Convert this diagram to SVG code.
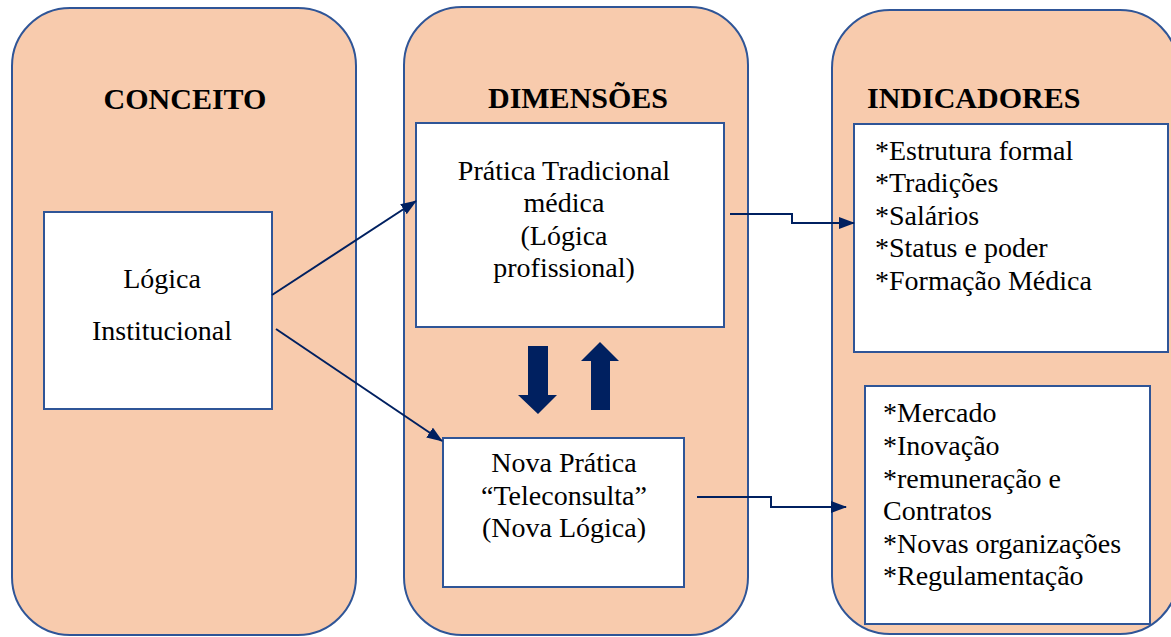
<svg xmlns="http://www.w3.org/2000/svg" width="1171" height="637" viewBox="0 0 1171 637">
<style>
.cont{fill:#F8CBAD;stroke:#2F5597;stroke-width:2}
.box{fill:#FFFFFF;stroke:#2F5597;stroke-width:2}
.title{font-family:"Liberation Serif","Times New Roman",serif;font-weight:bold;font-size:30px;fill:#000}
.t{font-family:"Liberation Serif","Times New Roman",serif;font-size:28px;fill:#000}
.c{text-anchor:middle}
.conn{fill:none;stroke:#002060;stroke-width:2}
.block{fill:#002060}
</style>
<defs>
<marker id="ah" markerWidth="10" markerHeight="8" refX="9" refY="4" orient="auto" markerUnits="userSpaceOnUse" viewBox="0 0 10 8">
<path d="M0,0 L10,4 L0,8 Z" fill="#002060"/>
</marker>
<marker id="ah2" markerWidth="16" markerHeight="12" refX="15" refY="6" orient="auto" markerUnits="userSpaceOnUse" viewBox="0 0 16 12">
<path d="M0,0 L16,6 L0,12 Z" fill="#002060"/>
</marker>
</defs>
<rect width="1171" height="637" fill="#FFFFFF"/>
<g id="conceito">
<rect class="cont" x="12" y="8" width="344" height="627" rx="58" ry="58"/>
<text class="title c" x="185" y="109">CONCEITO</text>
</g>
<g id="dimensoes">
<rect class="cont" x="404" y="7" width="344" height="628" rx="58" ry="58"/>
<text class="title c" x="578" y="108">DIMENSÕES</text>
</g>
<g id="indicadores">
<rect class="cont" x="832" y="10" width="346" height="624" rx="58" ry="58"/>
<text class="title" x="867" y="108">INDICADORES</text>
</g>
<g id="logica-institucional">
<rect class="box" x="44" y="212" width="228" height="197"/>
<text class="t c" x="162" y="288">Lógica</text>
<text class="t c" x="162" y="340">Institucional</text>
</g>
<g id="pratica-tradicional">
<rect class="box" x="416" y="123" width="308" height="204"/>
<text class="t c" x="564" y="180">Prática Tradicional</text>
<text class="t c" x="564" y="212">médica</text>
<text class="t c" x="564" y="245">(Lógica</text>
<text class="t c" x="564" y="277">profissional)</text>
</g>
<g id="nova-pratica">
<rect class="box" x="443" y="438" width="241" height="149"/>
<text class="t c" x="564" y="472">Nova Prática</text>
<text class="t c" x="564" y="505">“Teleconsulta”</text>
<text class="t c" x="564" y="537">(Nova Lógica)</text>
</g>
<g id="indicadores-1">
<rect class="box" x="854" y="124" width="314" height="228"/>
<text class="t" x="875" y="160">*Estrutura formal</text>
<text class="t" x="875" y="192">*Tradições</text>
<text class="t" x="875" y="225">*Salários</text>
<text class="t" x="875" y="257">*Status e poder</text>
<text class="t" x="875" y="290">*Formação Médica</text>
</g>
<g id="indicadores-2">
<rect class="box" x="865" y="386" width="285" height="238"/>
<text class="t" x="883" y="422">*Mercado</text>
<text class="t" x="883" y="455">*Inovação</text>
<text class="t" x="883" y="488">*remuneração e</text>
<text class="t" x="883" y="520">Contratos</text>
<text class="t" x="883" y="553">*Novas organizações</text>
<text class="t" x="883" y="585">*Regulamentação</text>
</g>
<g id="connectors">
<line class="conn" x1="272" y1="295" x2="416" y2="201" marker-end="url(#ah2)"/>
<line class="conn" x1="276" y1="329" x2="442" y2="441" marker-end="url(#ah2)"/>
<polyline class="conn" points="730,214 792,214 792,223 854,223" marker-end="url(#ah2)"/>
<polyline class="conn" points="697,497 771,497 771,507 846,507" marker-end="url(#ah2)"/>
<path class="block" d="M528,346 L548,346 L548,395 L557,395 L538,414 L518,395 L528,395 Z"/>
<path class="block" d="M591,410 L610,410 L610,361 L619,361 L600,342 L581,361 L591,361 Z"/>
</g>
</svg>
